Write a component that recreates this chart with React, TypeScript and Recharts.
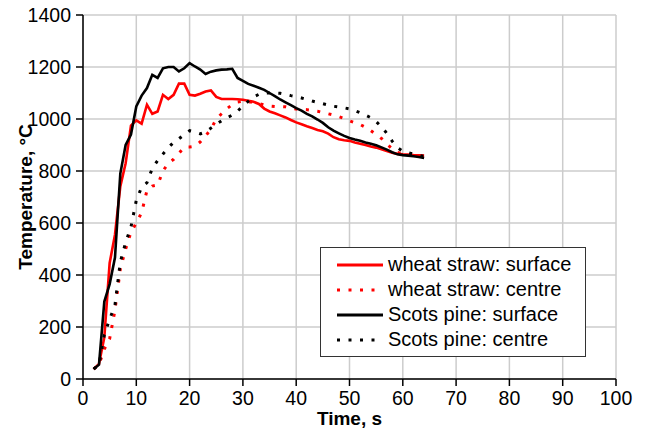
import React from "react";
import { LineChart, Line, XAxis, YAxis, CartesianGrid, Label } from "recharts";

// time axis, seconds
const TIME = [
  2, 3, 4, 5, 6, 7, 8, 9, 10, 11, 12, 13, 14, 15, 16, 17, 18, 19, 20, 21, 22, 23, 24, 25, 26, 27, 28, 29, 30, 31, 32, 33,
  34, 35, 36, 37, 38, 39, 40, 41, 42, 43, 44, 45, 46, 47, 48, 49, 50, 51, 52, 53, 54, 55, 56, 57, 58, 59, 60, 61, 62, 63, 64,
];

// temperatures, °C
const WHEAT_SURFACE = [
  38, 58, 160, 446, 555, 741, 830, 975, 995, 982, 1055, 1020, 1029, 1093, 1077, 1093, 1136, 1136, 1093, 1090, 1097, 1106,
  1110, 1085, 1077, 1077, 1077, 1076, 1074, 1070, 1066, 1058, 1040, 1029, 1022, 1014, 1006, 996, 987, 980, 972, 965, 958,
  953, 944, 930, 922, 918, 916, 910, 905, 900, 894, 890, 884, 877, 870, 866, 864, 863, 861, 860, 859,
];
const WHEAT_CENTRE = [
  38, 55, 115, 155, 265, 423, 500, 565, 600, 640, 725, 742, 746, 800, 830, 845, 868, 892, 892, 895, 912, 935, 961, 1000,
  1020, 1040, 1055, 1065, 1068, 1066, 1065, 1060, 1054, 1050, 1048, 1048, 1047, 1042, 1038, 1037, 1036, 1033, 1030, 1025,
  1020, 1015, 1009, 1002, 993, 986, 979, 968, 955, 940, 925, 905, 885, 871, 866, 863, 861, 859, 856,
];
const PINE_SURFACE = [
  38, 55, 298, 365, 467, 790, 900, 940, 1048, 1090, 1119, 1170, 1158, 1195, 1200, 1200, 1183, 1195, 1215, 1202, 1190, 1173,
  1182, 1187, 1190, 1191, 1193, 1158, 1147, 1135, 1128, 1120, 1112, 1100, 1088, 1075, 1064, 1053, 1042, 1032, 1020, 1010,
  998, 985, 968, 955, 945, 935, 927, 921, 916, 910, 905, 899, 891, 882, 872, 864, 861, 859, 857, 854, 850,
];
const PINE_CENTRE = [
  38, 55, 170, 230, 285, 450, 525, 585, 687, 738, 755, 810, 840, 865, 890, 910, 924, 940, 955, 950, 943, 950, 965, 980, 993,
  1005, 1015, 1030, 1050, 1068, 1085, 1095, 1100, 1100, 1100, 1099, 1095, 1090, 1086, 1081, 1075, 1069, 1064, 1059, 1054,
  1049, 1046, 1043, 1039, 1032, 1024, 1015, 1005, 990, 970, 945, 915, 890, 876, 870, 865, 860, 856,
];

const X_MAJOR = [0, 10, 20, 30, 40, 50, 60, 70, 80, 90, 100];
const X_MINOR = [5, 15, 25, 35, 45, 55, 65, 75, 85, 95];
const Y_MAJOR = [0, 200, 400, 600, 800, 1000, 1200, 1400];
const Y_MINOR = [100, 300, 500, 700, 900, 1100, 1300];

const SERIES = [
  { name: "wheat straw: surface", values: WHEAT_SURFACE, color: "#ff0000", dash: undefined },
  { name: "wheat straw: centre", values: WHEAT_CENTRE, color: "#ff0000", dash: "3 8.5" },
  { name: "Scots pine: surface", values: PINE_SURFACE, color: "#000000", dash: undefined },
  { name: "Scots pine: centre", values: PINE_CENTRE, color: "#000000", dash: "3 8.5" },
];

const FONT = '"Liberation Sans", Arial, sans-serif';
const tickStyle = { fontSize: 19.5, fill: "#000", fontFamily: FONT };

function toRows(values: number[]) {
  return TIME.map((t, i) => ({ time: t, temp: values[i] }));
}

function LegendBox() {
  return (
    <div
      style={{
        position: "absolute",
        left: 320,
        top: 247,
        width: 266,
        height: 110,
        boxSizing: "border-box",
        border: "1.5px solid #333",
        background: "#fff",
        fontFamily: FONT,
        fontSize: 20,
        color: "#000",
      }}
    >
      {SERIES.map((s, i) => (
        <div
          key={s.name}
          style={{ position: "absolute", left: 16, top: 4 + i * 25, height: 25, display: "flex", alignItems: "center", whiteSpace: "nowrap" }}
        >
          <svg width={46} height={6} style={{ marginRight: 5 }}>
            <line x1={0} y1={3} x2={46} y2={3} stroke={s.color} strokeWidth={3} strokeDasharray={s.dash} />
          </svg>
          {s.name}
        </div>
      ))}
    </div>
  );
}

export default function App() {
  return (
    <div style={{ position: "absolute", left: 0, top: 0, width: 646, height: 435, background: "#fff" }}>
      <LineChart width={646} height={435} margin={{ top: 15, right: 30, bottom: 8, left: 23 }}>
        <CartesianGrid xAxisId="main" yAxisId="mainY" stroke="#cccccc" strokeWidth={1.5} />
        {/* minor ticks first so they sit right on the plot edge */}
        <XAxis
          xAxisId="minor"
          type="number"
          dataKey="time"
          domain={[0, 100]}
          ticks={X_MINOR}
          height={0}
          tick={false}
          tickSize={4}
          axisLine={false}
          tickLine={{ stroke: "#000", strokeWidth: 1.5 }}
        />
        <XAxis
          xAxisId="main"
          type="number"
          dataKey="time"
          domain={[0, 100]}
          ticks={X_MAJOR}
          height={48}
          tickSize={7}
          tickMargin={5}
          tick={tickStyle}
          axisLine={{ stroke: "#000", strokeWidth: 1.5 }}
          tickLine={{ stroke: "#000", strokeWidth: 1.5 }}
        >
          <Label value="Time, s" position="insideBottom" offset={2} style={{ fontSize: 19, fontWeight: "bold", fill: "#000", fontFamily: FONT }} />
        </XAxis>
        <XAxis xAxisId="top" orientation="top" type="number" domain={[0, 100]} height={0} tick={false} tickLine={false} axisLine={{ stroke: "#000", strokeWidth: 1.5 }} />
        <YAxis
          yAxisId="minorY"
          type="number"
          domain={[0, 1400]}
          ticks={Y_MINOR}
          width={0}
          tick={false}
          tickSize={4}
          axisLine={false}
          tickLine={{ stroke: "#000", strokeWidth: 1.5 }}
        />
        <YAxis
          yAxisId="mainY"
          type="number"
          domain={[0, 1400]}
          ticks={Y_MAJOR}
          width={60}
          tickSize={7}
          tickMargin={5}
          tick={tickStyle}
          axisLine={{ stroke: "#000", strokeWidth: 1.5 }}
          tickLine={{ stroke: "#000", strokeWidth: 1.5 }}
        >
          <Label
            value="Temperature, °C"
            angle={-90}
            position="insideLeft"
            offset={2}
            style={{ textAnchor: "middle", fontSize: 19, fontWeight: "bold", fill: "#000", fontFamily: FONT }}
          />
        </YAxis>
        <YAxis yAxisId="right" orientation="right" type="number" domain={[0, 1400]} width={0} tick={false} tickLine={false} axisLine={{ stroke: "#444", strokeWidth: 2 }} />
        {SERIES.map((s) => (
          <Line
            key={s.name}
            xAxisId="main"
            yAxisId="mainY"
            data={toRows(s.values)}
            dataKey="temp"
            type="linear"
            stroke={s.color}
            strokeWidth={s.dash ? 3 : 2.6}
            strokeDasharray={s.dash}
            dot={false}
            activeDot={false}
            isAnimationActive={false}
          />
        ))}
      </LineChart>
      <LegendBox />
    </div>
  );
}
